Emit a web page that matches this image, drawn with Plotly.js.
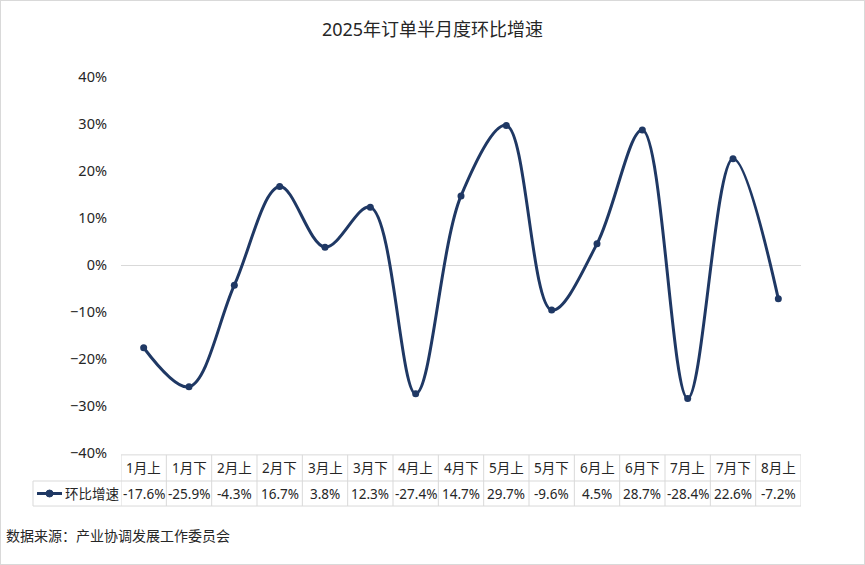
<!DOCTYPE html>
<html>
<head>
<meta charset="utf-8">
<script src="https://cdn.plot.ly/plotly-3.0.1.min.js"></script>
<style>
html,body{margin:0;padding:0;background:#fff;}
#chart{width:863px;height:563px;border:1px solid #d9d9d9;}
</style>
</head>
<body>
<div id="chart"></div>
<script>
const categories = ['1月上','1月下','2月上','2月下','3月上','3月下','4月上','4月下','5月上','5月下','6月上','6月下','7月上','7月下','8月上'];
const growth = [-17.6,-25.9,-4.3,16.7,3.8,12.3,-27.4,14.7,29.7,-9.6,4.5,28.7,-28.4,22.6,-7.2];
const seriesName = '环比增速';
const titleText = '2025年订单半月度环比增速';
const sourceText = '数据来源：产业协调发展工作委员会';

const navy = '#1f3864';
const gridCol = '#d9d9d9';
const fontFam = '"Noto Sans","Noto Sans CJK SC",sans-serif';
const txtCol = '#262626';

// table geometry in paper coordinates (plot area spans 0..1)
const yTop = -0.005, yMid = -0.0745, yBot = -0.141;
const xLeg = -0.1294;

const shapes = [];
const line = {color: gridCol, width: 1};
shapes.push({type:'line', xref:'x', yref:'paper', x0:-0.5, x1:categories.length-0.5, y0:yTop, y1:yTop, line});
shapes.push({type:'line', xref:'paper', yref:'paper', x0:xLeg, x1:1, y0:yMid, y1:yMid, line});
shapes.push({type:'line', xref:'paper', yref:'paper', x0:xLeg, x1:1, y0:yBot, y1:yBot, line});
shapes.push({type:'line', xref:'paper', yref:'paper', x0:xLeg, x1:xLeg, y0:yMid, y1:yBot, line});
for (let i = 0; i <= categories.length; i++) {
  shapes.push({type:'line', xref:'x', yref:'paper', x0:i-0.5, x1:i-0.5, y0:yTop, y1:yBot, line});
}
// legend key in table
const legY = (yMid + yBot) / 2;
shapes.push({type:'line', xref:'paper', yref:'paper', x0:-0.1235, x1:-0.0868, y0:legY, y1:legY, line:{color:navy, width:3}});
shapes.push({type:'circle', xref:'paper', yref:'paper', xsizemode:'pixel', ysizemode:'pixel',
  xanchor:-0.1051, yanchor:legY, x0:-3.5, x1:3.5, y0:-3.5, y1:3.5, fillcolor:navy, line:{color:navy, width:1}});

const tblFont = {size:13.5, color:txtCol, family:fontFam};
const annotations = [];
categories.forEach((c, i) => {
  annotations.push({xref:'x', yref:'paper', x:c, y:(yTop+yMid)/2, text:c, showarrow:false,
    xanchor:'center', yanchor:'middle', font:tblFont});
  annotations.push({xref:'x', yref:'paper', x:c, y:legY, text:growth[i].toFixed(1)+'%', showarrow:false,
    xanchor:'center', yanchor:'middle', font:tblFont});
});
annotations.push({xref:'paper', yref:'paper', x:-0.0853, y:legY, text:seriesName, showarrow:false,
  xanchor:'left', yanchor:'middle', font:tblFont});
annotations.push({xref:'paper', yref:'paper', x:-0.172, y:-0.22, text:sourceText, showarrow:false,
  xanchor:'left', yanchor:'middle', font:{size:14, color:'#262626', family:fontFam}});

const trace = {
  type:'scatter', mode:'lines+markers', name:seriesName,
  x: categories, y: growth.map(v => v/100),
  line:{color:navy, width:3, shape:'spline', smoothing:1},
  marker:{color:navy, size:7},
  cliponaxis:false
};

const layout = {
  width:863, height:563,
  margin:{l:120, r:63, t:76, b:111},
  paper_bgcolor:'#fff', plot_bgcolor:'#fff',
  font:{family:fontFam, color:txtCol},
  showlegend:false,
  title:{text:titleText, x:0.5, xanchor:'center', y:1-29/563, yanchor:'middle', yref:'container',
    font:{size:18, color:'#262626', family:fontFam}},
  xaxis:{type:'category', range:[-0.5, categories.length-0.5], showticklabels:false, showgrid:false,
    zeroline:false, showline:false, ticks:''},
  yaxis:{range:[-0.4,0.4], dtick:0.1, tickformat:'.0%', showgrid:false, zeroline:true,
    zerolinecolor:gridCol, zerolinewidth:1, showline:false, ticks:'', ticklabelstandoff:13,
    tickfont:{size:14.5, color:txtCol, family:fontFam}},
  shapes, annotations
};

Plotly.newPlot('chart', [trace], layout, {displayModeBar:false, staticPlot:true});
</script>
</body>
</html>
